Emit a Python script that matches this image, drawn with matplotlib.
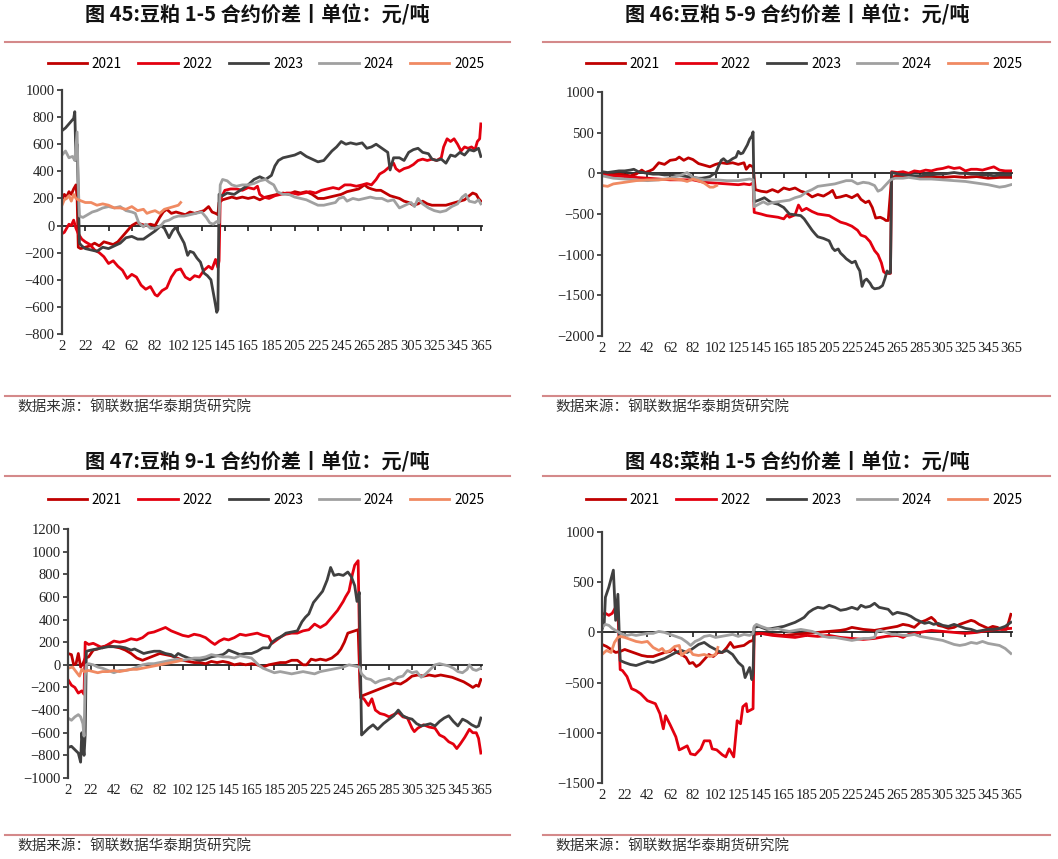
import numpy as np
import matplotlib
matplotlib.use("Agg")
import matplotlib.pyplot as plt
from matplotlib.lines import Line2D

CJK = ["Noto Sans CJK SC", "DejaVu Sans"]
SERIF = "Liberation Serif"

YEARS = ["2021", "2022", "2023", "2024", "2025"]
COLORS = ["#C00000", "#E3000F", "#404040", "#A0A0A0", "#F08A62"]
X_LABELS = ["2", "22", "42", "62", "82", "102", "125", "145", "165", "185",
            "205", "225", "245", "265", "285", "305", "325", "345", "365"]

# ---- 图45 豆粕 1-5 (x = trading-day index, y = spread) ----
S45_2021 = [(0, 190), (2, 230), (4, 210), (6, 250), (8, 230), (10, 270), (12, 300), (13, 200), (14, -160),
            (16, -170), (20, -160), (24, -150), (28, -130), (32, -150), (36, -120), (40, -130), (44, -140),
            (48, -120), (52, -80), (56, -40), (60, 0), (64, 20), (68, 10), (72, 0), (76, 10), (80, 0),
            (84, 60), (87, 100), (90, 120), (94, 90), (98, 100), (102, 90), (106, 80), (110, 100), (114, 90),
            (118, 100), (122, 110), (126, 140), (129, 100), (132, 90), (134, 80), (135, 170), (138, 190),
            (142, 200), (146, 210), (150, 200), (155, 210), (160, 200), (165, 210), (170, 190), (175, 210),
            (180, 220), (185, 230), (190, 240), (195, 230), (200, 250), (205, 240), (210, 250), (215, 230),
            (220, 200), (225, 200), (230, 210), (235, 220), (240, 230), (245, 250), (250, 260), (255, 270),
            (260, 300), (263, 280), (266, 270), (270, 260), (274, 260), (278, 240), (282, 220), (286, 210),
            (290, 200), (294, 180), (298, 170), (302, 150), (306, 160), (310, 180), (314, 160), (318, 150),
            (322, 150), (326, 150), (330, 150), (334, 160), (338, 170), (342, 180), (346, 190), (350, 220),
            (353, 240), (356, 230), (358, 200), (360, 180)]
S45_2022 = [(0, -60), (2, -50), (4, -20), (6, 10), (8, 0), (10, 40), (12, -20), (14, -60), (17, -100),
            (20, -120), (24, -140), (28, -180), (32, -200), (36, -230), (40, -280), (44, -260), (48, -300),
            (52, -330), (56, -390), (60, -360), (64, -380), (68, -440), (72, -470), (76, -450), (80, -510),
            (82, -520), (86, -480), (90, -460), (94, -380), (98, -330), (102, -320), (106, -380), (110, -400),
            (114, -370), (118, -380), (122, -330), (126, -300), (129, -320), (132, -250), (134, -310),
            (135, -260), (136, 190), (140, 260), (145, 270), (150, 270), (155, 260), (160, 280), (165, 270),
            (168, 290), (170, 230), (173, 210), (178, 200), (183, 220), (188, 230), (193, 240), (198, 240),
            (203, 230), (208, 240), (213, 250), (218, 240), (223, 260), (228, 270), (233, 280), (238, 270),
            (243, 300), (248, 300), (253, 290), (258, 300), (262, 310), (266, 300), (270, 340), (273, 380),
            (277, 400), (281, 430), (285, 460), (287, 420), (290, 400), (294, 420), (298, 430), (302, 450),
            (306, 480), (310, 490), (314, 480), (318, 490), (322, 480), (326, 500), (328, 580), (331, 640),
            (334, 620), (337, 640), (340, 600), (343, 550), (346, 580), (349, 570), (352, 580), (355, 560),
            (357, 620), (359, 640), (360, 750)]
S45_2023 = [(0, 700), (3, 720), (7, 760), (10, 790), (11, 840), (12, 480), (13, 600), (15, -130), (17, -150),
            (20, -170), (25, -180), (30, -190), (35, -160), (40, -170), (45, -150), (50, -130), (55, -90),
            (60, -80), (65, -100), (70, -100), (75, -70), (80, -40), (85, 0), (88, -20), (92, -90), (95, -40),
            (98, -10), (100, -50), (105, -130), (108, -220), (110, -190), (113, -200), (116, -240), (119, -270),
            (122, -350), (125, -370), (128, -400), (131, -540), (133, -640), (134, -620), (135, 230), (138, 220),
            (142, 240), (148, 230), (155, 270), (160, 300), (165, 340), (170, 360), (175, 340), (180, 370),
            (183, 440), (186, 480), (190, 500), (195, 510), (200, 520), (205, 540), (210, 510), (215, 490),
            (220, 470), (225, 480), (228, 510), (232, 550), (236, 580), (240, 620), (244, 600), (248, 610),
            (253, 600), (258, 610), (262, 570), (266, 580), (270, 600), (275, 570), (280, 540), (282, 410),
            (285, 500), (290, 500), (294, 480), (298, 540), (302, 560), (306, 570), (310, 540), (315, 530),
            (318, 490), (322, 480), (326, 490), (330, 460), (334, 520), (338, 510), (342, 540), (346, 520),
            (350, 560), (354, 550), (358, 570), (360, 510)]
S45_2024 = [(0, 520), (3, 550), (6, 500), (9, 510), (11, 480), (13, 690), (14, 300), (15, 70), (18, 60),
            (22, 80), (26, 100), (30, 110), (35, 130), (40, 140), (45, 130), (50, 140), (55, 110), (60, 100),
            (63, 90), (66, 20), (70, -10), (72, 10), (76, -20), (80, -20), (85, 0), (88, 30), (92, 40), (96, 60),
            (100, 70), (105, 70), (110, 80), (115, 90), (120, 100), (124, 60), (127, 20), (130, 10), (133, 30),
            (135, 20), (136, 300), (138, 340), (142, 330), (146, 300), (150, 290), (155, 300), (160, 300),
            (165, 310), (170, 330), (175, 340), (178, 320), (182, 300), (185, 250), (190, 230), (195, 230),
            (200, 210), (205, 200), (210, 190), (215, 170), (220, 150), (225, 150), (230, 160), (235, 170),
            (238, 200), (242, 210), (245, 180), (250, 200), (255, 190), (260, 200), (265, 210), (270, 200),
            (275, 200), (280, 180), (285, 190), (290, 130), (295, 150), (300, 170), (303, 140), (306, 200),
            (310, 160), (315, 130), (320, 110), (325, 100), (330, 110), (335, 140), (340, 160), (344, 210),
            (347, 230), (350, 180), (355, 170), (358, 190), (360, 160)]
S45_2025 = [(0, 150), (2, 190), (4, 200), (6, 220), (8, 180), (10, 230), (12, 200), (14, 190), (17, 180),
            (20, 170), (25, 170), (30, 150), (35, 160), (40, 150), (45, 130), (50, 130), (55, 120), (60, 140),
            (65, 110), (70, 120), (73, 90), (76, 100), (80, 110), (84, 90), (88, 120), (92, 130), (96, 140),
            (100, 150), (102, 170)]

# ---- 图46 豆粕 5-9 ----
S46_2021 = [(0, 0), (5, -10), (10, -20), (15, -10), (20, -20), (25, -30), (30, -10), (35, 40), (38, 10),
            (42, 30), (45, 50), (50, 130), (55, 110), (60, 160), (65, 170), (68, 200), (72, 160), (76, 190),
            (80, 170), (85, 120), (90, 100), (95, 80), (100, 110), (105, 130), (110, 120), (115, 130),
            (120, 110), (125, 130), (127, 50), (130, 100), (133, 80), (135, -200), (140, -220), (145, -230),
            (150, -200), (155, -230), (160, -180), (165, -200), (170, -180), (175, -220), (180, -240),
            (185, -290), (190, -260), (195, -280), (200, -240), (203, -210), (206, -300), (210, -290),
            (215, -270), (220, -300), (225, -260), (228, -320), (232, -360), (235, -340), (238, -420),
            (241, -550), (245, -540), (248, -560), (250, -580), (252, -580), (255, -50), (260, -30), (270, -40),
            (280, -50), (290, -40), (300, -50), (310, -40), (320, -50), (330, -40), (340, -60), (350, -50),
            (360, -50)]
S46_2022 = [(0, -20), (10, -30), (20, -40), (30, -50), (40, -60), (50, -70), (60, -80), (70, -80), (80, -80),
            (90, -110), (100, -120), (110, -130), (120, -140), (125, -130), (130, -140), (133, -120), (134, -480),
            (140, -500), (145, -520), (150, -530), (155, -540), (160, -560), (163, -510), (165, -540), (170, -510),
            (173, -390), (176, -460), (180, -430), (185, -470), (190, -500), (195, -510), (200, -520), (205, -560),
            (210, -600), (215, -620), (220, -650), (225, -700), (228, -760), (232, -780), (236, -840), (240, -950),
            (243, -1000), (246, -1100), (248, -1210), (250, -1230), (254, -1230), (255, 20), (260, 10), (265, 20),
            (270, 0), (275, 30), (280, 20), (285, 40), (290, 30), (295, 50), (300, 60), (305, 80), (310, 60),
            (315, 70), (320, 30), (325, 50), (330, 50), (335, 40), (340, 60), (345, 80), (350, 40), (355, 30),
            (360, 30)]
S46_2023 = [(0, 20), (5, 10), (10, 20), (15, 30), (20, 30), (25, 40), (28, 50), (32, 20), (36, 10), (40, 0),
            (45, -10), (50, -10), (55, -20), (60, -20), (65, -30), (70, -30), (75, -40), (80, -50), (85, -60),
            (88, -60), (92, -50), (95, -40), (98, -10), (100, 0), (103, 100), (105, 160), (107, 180), (110, 140),
            (112, 150), (115, 180), (118, 200), (120, 270), (122, 240), (124, 250), (126, 300), (128, 350),
            (130, 420), (132, 460), (133, 510), (134, -350), (138, -330), (143, -300), (148, -350), (152, -370),
            (155, -380), (160, -420), (165, -500), (170, -510), (175, -520), (178, -560), (180, -600), (183, -660),
            (185, -700), (188, -750), (190, -780), (195, -800), (200, -830), (203, -920), (205, -950), (208, -930),
            (210, -980), (213, -1020), (215, -1050), (218, -1080), (220, -1100), (223, -1080), (225, -1150),
            (227, -1200), (229, -1390), (231, -1320), (233, -1300), (236, -1350), (238, -1400), (240, -1420),
            (244, -1410), (247, -1380), (249, -1300), (251, -1200), (253, -1230), (254, -1220), (255, 10),
            (258, 0), (262, -10), (266, -20), (270, -20), (275, -30), (280, -30), (285, -20), (290, -20),
            (295, -10), (300, -10), (305, 0), (310, 10), (315, 0), (320, 0), (325, -10), (330, -10), (335, -20),
            (340, -20), (345, -30), (350, -20), (355, -20), (360, -20)]
S46_2024 = [(0, -30), (10, -60), (20, -70), (30, -80), (40, -90), (50, -80), (60, -60), (70, -20), (75, 10),
            (80, -50), (90, -80), (100, -80), (110, -90), (120, -90), (130, -70), (133, -80), (134, -410),
            (138, -380), (142, -350), (146, -380), (150, -360), (155, -350), (160, -340), (165, -330),
            (170, -300), (175, -280), (180, -230), (185, -200), (190, -160), (195, -150), (200, -140),
            (205, -130), (210, -110), (215, -90), (220, -90), (225, -130), (230, -110), (235, -120), (240, -150),
            (243, -220), (246, -200), (250, -140), (254, -80), (258, -60), (265, -60), (270, -50), (280, -70),
            (290, -70), (300, -80), (310, -90), (320, -100), (330, -120), (340, -140), (350, -170), (355, -160),
            (360, -140)]
S46_2025 = [(0, -150), (5, -160), (10, -130), (20, -110), (30, -90), (40, -80), (50, -80), (60, -70),
            (70, -80), (75, -100), (80, -70), (85, -90), (90, -120), (95, -170), (98, -170), (101, -150)]

# ---- 图47 豆粕 9-1 ----
S47_2021 = [(0, 100), (3, 90), (5, 0), (7, 10), (9, 100), (11, -20), (13, 10), (15, 60), (18, 70), (22, 130),
            (26, 140), (30, 160), (35, 170), (40, 160), (45, 150), (50, 130), (55, 100), (60, 60), (65, 40),
            (70, 60), (75, 80), (80, 100), (85, 90), (90, 80), (95, 60), (100, 40), (105, 30), (110, 20),
            (115, 20), (120, 10), (125, 30), (130, 20), (135, 30), (140, 20), (145, 0), (150, 10), (155, 0),
            (160, 10), (165, 0), (170, -20), (175, 0), (180, 10), (185, 20), (190, 20), (195, 40), (200, 40),
            (205, 0), (208, 0), (212, 50), (216, 40), (220, 50), (225, 40), (230, 60), (235, 100), (238, 140),
            (241, 200), (244, 280), (247, 290), (250, 300), (253, 310), (255, -280), (260, -260), (265, -240),
            (270, -220), (275, -200), (280, -180), (285, -160), (290, -170), (295, -140), (300, -100),
            (305, -90), (310, -100), (315, -90), (320, -100), (325, -90), (330, -100), (335, -110), (340, -130),
            (345, -150), (350, -180), (353, -200), (356, -180), (358, -190), (360, -130)]
S47_2022 = [(0, -130), (3, -180), (6, -200), (9, -250), (12, -230), (14, -260), (15, 200), (18, 180),
            (22, 190), (26, 170), (30, 150), (35, 180), (40, 210), (45, 200), (50, 210), (55, 230), (60, 220),
            (65, 240), (70, 280), (75, 290), (80, 310), (85, 330), (90, 300), (95, 280), (100, 260), (105, 250),
            (110, 270), (115, 260), (120, 240), (125, 200), (128, 180), (132, 210), (136, 230), (140, 220),
            (145, 240), (150, 270), (155, 260), (160, 270), (165, 280), (170, 260), (175, 250), (178, 190),
            (182, 220), (186, 250), (190, 270), (195, 280), (200, 280), (205, 300), (210, 310), (215, 360),
            (220, 330), (225, 360), (230, 420), (235, 480), (240, 560), (242, 600), (245, 650), (248, 800),
            (250, 880), (253, 920), (255, -290), (258, -300), (262, -360), (265, -300), (268, -400), (272, -430),
            (276, -440), (280, -460), (284, -440), (288, -420), (292, -460), (296, -470), (300, -560),
            (302, -590), (305, -560), (310, -530), (315, -550), (320, -560), (324, -620), (328, -640),
            (332, -680), (336, -700), (339, -740), (342, -700), (346, -640), (350, -570), (353, -600),
            (356, -600), (358, -650), (360, -780)]
S47_2023 = [(0, -730), (3, -720), (6, -750), (9, -780), (11, -860), (12, -600), (13, -700), (14, -800),
            (15, -620), (16, 120), (20, 130), (25, 140), (30, 150), (35, 160), (40, 160), (45, 160), (50, 150),
            (55, 130), (58, 140), (62, 120), (66, 100), (70, 110), (75, 120), (80, 120), (85, 100), (90, 90),
            (93, 70), (96, 100), (100, 80), (105, 60), (110, 50), (115, 40), (120, 50), (125, 70), (130, 80),
            (135, 90), (138, 110), (140, 130), (145, 110), (150, 90), (155, 100), (160, 100), (165, 120),
            (170, 150), (175, 150), (178, 200), (182, 230), (186, 250), (190, 280), (195, 290), (200, 300),
            (204, 380), (207, 420), (210, 450), (214, 550), (218, 600), (222, 650), (226, 750), (229, 860),
            (232, 790), (236, 800), (240, 790), (244, 820), (247, 780), (250, 700), (252, 560), (254, 640),
            (256, -620), (258, -600), (262, -560), (266, -530), (270, -570), (275, -520), (280, -480),
            (284, -450), (288, -400), (292, -450), (296, -470), (300, -480), (304, -520), (308, -540),
            (312, -530), (316, -520), (320, -540), (324, -500), (328, -470), (332, -450), (336, -500),
            (340, -540), (344, -480), (348, -500), (352, -530), (356, -550), (358, -540), (360, -470)]
S47_2024 = [(0, -470), (3, -490), (6, -460), (9, -440), (11, -460), (13, -520), (14, -630), (15, -100),
            (16, 0), (18, 10), (22, 0), (26, -20), (30, -30), (35, -50), (40, -70), (45, -50), (50, -50),
            (55, -40), (60, -20), (65, 0), (70, 10), (75, 10), (80, 20), (85, 30), (90, 40), (95, 50), (100, 40),
            (105, 50), (110, 60), (115, 60), (120, 70), (125, 90), (130, 80), (135, 70), (140, 70), (145, 60),
            (150, 80), (155, 70), (160, 60), (163, 30), (166, 0), (170, -30), (175, -50), (180, -70), (185, -60),
            (190, -70), (195, -80), (200, -70), (205, -60), (210, -70), (215, -80), (220, -60), (225, -50),
            (230, -40), (235, -30), (240, -20), (245, 0), (250, -10), (254, -20), (256, -80), (260, -120),
            (264, -130), (268, -160), (272, -140), (276, -130), (280, -120), (284, -140), (288, -110),
            (292, -100), (296, -50), (300, -70), (304, -60), (308, -110), (312, -80), (316, -40), (320, 0),
            (324, 10), (328, 0), (332, -10), (336, -30), (340, -60), (344, -70), (348, -40), (350, 0),
            (353, -40), (356, -50), (360, -30)]
S47_2025 = [(0, -30), (4, -20), (7, -60), (10, -100), (12, -40), (14, -60), (18, -50), (22, -60), (26, -70),
            (30, -60), (35, -60), (40, -50), (45, -60), (50, -50), (55, -40), (60, -40), (65, -30), (70, -20),
            (75, -10), (80, 0), (85, 10), (90, 20), (95, 30), (99, 40)]

# ---- 图48 菜粕 1-5 ----
S48_2021 = [(0, -120), (4, -140), (8, -170), (12, -200), (16, -190), (20, -170), (25, -190), (30, -210),
            (35, -230), (40, -240), (45, -240), (50, -220), (55, -200), (60, -190), (63, -160), (66, -200),
            (70, -220), (74, -250), (77, -310), (80, -300), (83, -340), (86, -320), (90, -270), (94, -220),
            (98, -240), (102, -200), (106, -200), (110, -150), (113, -100), (116, -150), (120, -140),
            (125, -130), (130, -90), (133, -80), (134, -10), (140, -10), (150, -20), (160, -30), (170, -20),
            (180, -10), (190, 0), (200, 10), (210, 20), (215, 30), (220, 50), (225, 40), (230, 30), (240, 20),
            (250, 40), (260, 60), (265, 80), (270, 70), (275, 50), (280, 100), (285, 120), (290, 150),
            (293, 120), (296, 70), (300, 60), (305, 40), (310, 50), (315, 80), (320, 100), (325, 120),
            (328, 110), (332, 80), (336, 60), (340, 40), (344, 60), (348, 50), (352, 30), (356, 30), (358, 100),
            (360, 180)]
S48_2022 = [(0, 180), (3, 190), (6, 170), (9, 190), (12, 250), (14, 200), (16, -370), (18, -380), (22, -440),
            (26, -560), (30, -580), (34, -610), (40, -680), (47, -710), (51, -810), (54, -960), (56, -830),
            (60, -920), (65, -1040), (68, -1170), (70, -1160), (75, -1130), (78, -1210), (82, -1220),
            (87, -1160), (90, -1080), (95, -1080), (97, -1160), (101, -1170), (106, -1220), (109, -1240),
            (112, -1160), (116, -1240), (119, -880), (122, -910), (124, -740), (127, -710), (128, -790),
            (133, -760), (134, -20), (140, -10), (150, -30), (160, -40), (170, -50), (180, -30), (190, -40),
            (200, -30), (210, -50), (220, -60), (230, -70), (240, -60), (250, -40), (260, -30), (265, -50),
            (270, -20), (280, 0), (290, 20), (300, 10), (310, 0), (320, -10), (330, 0), (340, 20), (350, 30),
            (360, 40)]
S48_2023 = [(0, 30), (2, 100), (3, 350), (6, 450), (10, 620), (12, 120), (14, 380), (16, -280), (20, -300),
            (25, -320), (30, -330), (35, -310), (40, -290), (45, -300), (50, -280), (55, -260), (60, -230),
            (65, -200), (70, -180), (75, -200), (80, -160), (85, -120), (90, -100), (95, -140), (100, -170),
            (105, -200), (110, -180), (115, -220), (120, -300), (124, -340), (126, -450), (128, -400),
            (130, -350), (132, -470), (133, -400), (134, 50), (138, 60), (145, 30), (150, 40), (155, 50),
            (160, 60), (165, 80), (170, 100), (175, 130), (178, 150), (182, 200), (186, 230), (190, 250),
            (195, 240), (200, 270), (205, 250), (210, 220), (215, 230), (220, 250), (225, 230), (228, 270),
            (232, 250), (236, 260), (240, 290), (244, 250), (248, 240), (252, 230), (256, 180), (260, 200),
            (264, 190), (268, 180), (272, 160), (276, 130), (280, 110), (284, 90), (288, 100), (292, 80),
            (296, 90), (300, 70), (305, 60), (310, 80), (315, 60), (320, 40), (325, 30), (330, 10), (335, 20),
            (340, 30), (345, 30), (350, 40), (355, 60), (360, 100)]
S48_2024 = [(0, 50), (3, 80), (6, 70), (9, 40), (12, 20), (15, 0), (18, -20), (22, -30), (26, -20), (30, -30),
            (35, -20), (40, -10), (45, -10), (50, 10), (55, 0), (60, -20), (65, -40), (70, -60), (75, -100),
            (78, -130), (82, -90), (86, -70), (90, -40), (95, -30), (100, -50), (105, -40), (110, -30),
            (115, -20), (120, -40), (125, -20), (130, -30), (133, -10), (134, 60), (136, 80), (140, 60),
            (145, 40), (150, 30), (155, 40), (160, 20), (165, 10), (170, 20), (175, 30), (180, 20), (185, 10),
            (190, -10), (195, -40), (200, -50), (205, -50), (210, -60), (215, -70), (220, -80), (225, -70),
            (230, -60), (235, -60), (240, -50), (242, 10), (245, 20), (250, 0), (255, -20), (260, -20),
            (265, -30), (270, -30), (275, -20), (280, -40), (285, -50), (290, -60), (295, -70), (300, -80),
            (305, -100), (310, -120), (315, -130), (320, -120), (325, -100), (330, -110), (335, -90),
            (340, -110), (345, -120), (350, -130), (355, -160), (360, -210)]
S48_2025 = [(0, -220), (4, -180), (8, -200), (11, -100), (14, -50), (16, -40), (20, -50), (25, -70),
            (30, -90), (35, -100), (40, -90), (45, -150), (50, -180), (53, -160), (56, -200), (60, -180),
            (64, -140), (68, -130), (70, -230), (73, -200), (77, -170), (80, -220), (85, -230), (90, -220),
            (95, -240), (100, -220), (102, -150)]

W, H = 1058, 859
fig = plt.figure(figsize=(W / 100, H / 100), dpi=100)


def fx(px):
    return px / W


def fy(py):
    return 1 - py / H


def hrule(x0, x1, y):
    fig.add_artist(Line2D([fx(x0), fx(x1)], [fy(y), fy(y)], color="#D4898A", lw=1.5))


def panel(box, ylim, ystep, series, title, title_cx, title_y, rule_y, legend_cx, legend_y, src_y, side):
    left, right, top, bottom = box
    ax = fig.add_axes([fx(left), fy(bottom), fx(right - left), (bottom - top) / H])
    for year, pts, color in zip(YEARS, series, COLORS):
        xs, ys = zip(*pts)
        ax.plot(xs, ys, color=color, lw=2.0, label=year, solid_joinstyle="round")
    ax.set_xlim(0, 361)
    ax.set_ylim(*ylim)
    ax.set_yticks(np.arange(ylim[0], ylim[1] + 1, ystep))
    ax.set_xticks(range(0, 361, 20))
    ax.set_xticklabels(X_LABELS)
    ax.tick_params(labelfontfamily=SERIF, labelsize=10.5, labelcolor="#222222")
    ax.tick_params(axis="x", length=0, pad=4)
    ax.tick_params(axis="y", length=3.5, width=1.3, color="#404040", pad=2)
    for s in ["top", "right", "bottom"]:
        ax.spines[s].set_visible(False)
    ax.spines["left"].set_color("#404040")
    ax.spines["left"].set_linewidth(1.6)

    # zero line with category tick marks
    zero = ax.secondary_xaxis(0, transform=ax.transData)
    zero.set_xticks(range(0, 361, 20))
    zero.set_xticklabels([])
    zero.tick_params(length=3.5, width=1.2, color="#202020")
    zero.spines["bottom"].set_color("#202020")
    zero.spines["bottom"].set_linewidth(1.3)

    ax.legend(ncol=5, loc="center", bbox_to_anchor=(fx(legend_cx), fy(legend_y)),
              bbox_transform=fig.transFigure, frameon=False, handlelength=2.9,
              handletextpad=0.35, columnspacing=1.2,
              prop={"family": CJK, "size": 9.8})

    fig.text(fx(title_cx), fy(title_y), title, ha="center", va="center",
             family=CJK, fontsize=14.5, fontweight="bold", color="#111111")
    x0, x1 = (5, 510) if side == 0 else (543, 1050)
    hrule(x0, x1, rule_y)
    hrule(x0, x1, src_y - 11)
    fig.text(fx(x0 + 12), fy(src_y), "数据来源：钢联数据华泰期货研究院", ha="left", va="center",
             family=CJK, fontsize=10.5, color="#333333")


panel((62, 482, 90, 334), (-800, 1000), 200,
      [S45_2021, S45_2022, S45_2023, S45_2024, S45_2025],
      "图 45:豆粕 1-5 合约价差丨单位：元/吨", 257, 15, 42, 266, 64, 407, 0)
panel((602, 1012, 92, 336), (-2000, 1000), 500,
      [S46_2021, S46_2022, S46_2023, S46_2024, S46_2025],
      "图 46:豆粕 5-9 合约价差丨单位：元/吨", 797, 15, 42, 804, 64, 407, 1)
panel((68, 482, 529, 778), (-1000, 1200), 200,
      [S47_2021, S47_2022, S47_2023, S47_2024, S47_2025],
      "图 47:豆粕 9-1 合约价差丨单位：元/吨", 257, 462, 476, 266, 500, 846, 0)
panel((602, 1012, 532, 783), (-1500, 1000), 500,
      [S48_2021, S48_2022, S48_2023, S48_2024, S48_2025],
      "图 48:菜粕 1-5 合约价差丨单位：元/吨", 797, 462, 476, 804, 500, 846, 1)

fig.savefig("out.png", dpi=100)
